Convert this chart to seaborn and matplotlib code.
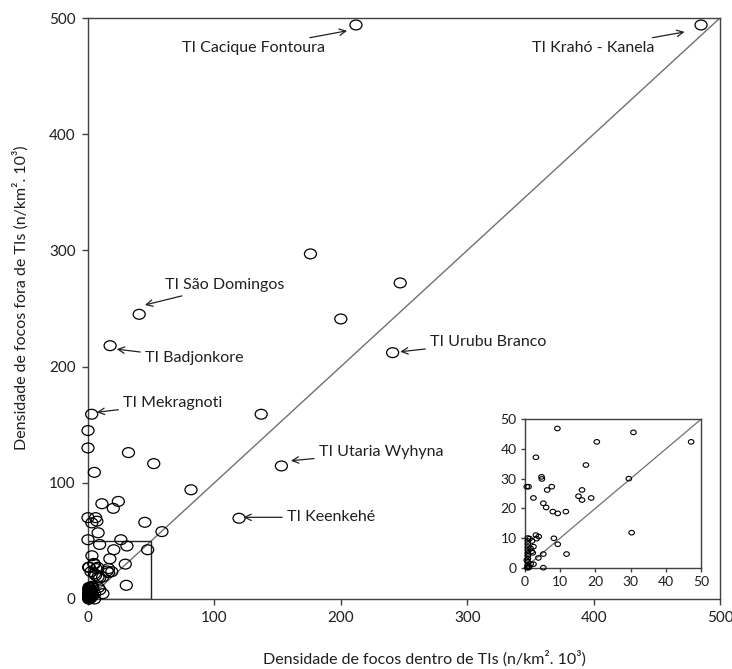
import matplotlib
matplotlib.use("Agg")
import matplotlib.pyplot as plt
import matplotlib.transforms as mtransforms
from matplotlib.path import Path
from matplotlib.patches import Rectangle
import seaborn as sns

# main plot points outside the 0-50 window (x = inside TIs, y = outside TIs)
x_big = [212, 485, 176, 247, 200, 40.5, 17.5, 241, 2.9, 137, 153, 81.5, 119.5,
         32, 52, 0, 0, 5, 11, 24, 20, 45, 0, 6, 7, 3, 58.5, 8, 0, 26]
y_big = [494, 494, 297, 272, 241, 245, 218, 212, 159, 159, 114.5, 94, 69.5,
         126, 116.5, 145, 130, 109, 82, 84, 78, 66, 70, 70, 67, 65.5, 58, 57, 51, 51]

# points inside the 0-50 window
x_small = [9.2, 30.8, 20.4, 47.2, 3.1, 17.3, 4.7, 4.8, 29.5, 0.5, 1.0, 7.6, 6.3,
           16.2, 15.2, 16.2, 2.4, 18.8, 5.2, 6.0, 7.9, 9.3, 11.6, 30.3, 3.1, 3.9,
           3.3, 8.2, 9.3, 2.4, 1.9, 5.2, 11.8, 3.8, 5.2,
           0.8, 0.8, 0.8, 0.8, 0.8, 0.8, 0.8, 0.8, 0.8, 0.8, 0.8,
           1.0, 1.2, 1.6, 2.4, 0.6, 1.3, 2.0, 1.6, 2.2, 0.5, 0.9]
y_small = [46.9, 45.6, 42.4, 42.4, 37.2, 34.6, 30.6, 29.9, 30.0, 27.3, 27.3, 27.3, 26.2,
           26.2, 24.1, 22.8, 23.5, 23.5, 21.7, 20.3, 18.9, 18.3, 18.9, 11.8, 11.0, 10.5,
           9.8, 9.9, 7.9, 7.1, 5.5, 4.6, 4.6, 3.3, 0.0,
           10, 9, 8, 7, 6, 5, 4, 3, 2, 1, 0.5,
           0.0, 0.3, 1.3, 1.2, 0.0, 9.8, 9.0, 6.5, 5.0, 2.5, 4.5]

# annotated TIs: label, point, text position, arrow tip
ti_names = ["TI Cacique Fontoura", "TI Krahó - Kanela", "TI São Domingos", "TI Badjonkore",
            "TI Mekragnoti", "TI Urubu Branco", "TI Utaria Wyhyna", "TI Keenkehé"]
ti_text_x = [74, 351.5, 61, 45, 27.7, 270.5, 182.5, 157.3]
ti_text_y = [474, 474, 270, 207, 168.4, 221, 126.2, 70.3]
ti_tip_x = [205, 472, 45, 22.7, 6.9, 247, 160.5, 123]
ti_tip_y = [489, 488, 253, 215, 160.7, 212.8, 119, 70.3]

diag = [0, 500]
box_size = 50

sns.set_theme(style="ticks")
plt.rcParams["font.family"] = ["Lato", "DejaVu Sans"]

ellipse = Path.unit_circle().transformed(mtransforms.Affine2D().scale(1.22, 1.0))
spine_col = "#404040"
text_col = "#1f1f1f"

fig = plt.figure(figsize=(7.32, 6.69), dpi=100)
ax = fig.add_axes([88 / 732, 1 - 599 / 669, 632 / 732, 581 / 669])

x_all = x_big + x_small
y_all = y_big + y_small
sns.lineplot(x=diag, y=diag, ax=ax, color="#707070", linewidth=1.0)
sns.scatterplot(x=x_all, y=y_all, ax=ax, marker=ellipse, s=75, fc="none",
                ec="black", linewidth=0.9, clip_on=False, zorder=3)
ax.add_patch(Rectangle((0, 0), box_size, box_size, fill=False,
                       edgecolor="#222222", linewidth=1.0, zorder=2))

for name, tx, ty, px, py in zip(ti_names, ti_text_x, ti_text_y, ti_tip_x, ti_tip_y):
    ax.annotate(name, xy=(px, py), xytext=(tx, ty), fontsize=11.5, color=text_col,
                ha="left", va="center",
                arrowprops=dict(arrowstyle="->", color="#222222", lw=0.9,
                                shrinkA=1, shrinkB=0))

ax.set_xlim(0, 500)
ax.set_ylim(0, 500)
ax.set_xticks(range(0, 501, 100))
ax.set_yticks(range(0, 501, 100))
ax.tick_params(direction="out", length=4, width=1, color=spine_col,
               labelsize=11, labelcolor=text_col, pad=5)
for sp in ax.spines.values():
    sp.set_visible(True)
    sp.set_color(spine_col)
    sp.set_linewidth(1.0)
ax.set_xlabel("Densidade de focos dentro de TIs (n/km². 10³)", fontsize=11.5, color=text_col)
ax.set_ylabel("Densidade de focos fora de TIs (n/km². 10³)", fontsize=11.5, color=text_col)
ax.xaxis.set_label_coords(0.532, -0.088)
ax.yaxis.set_label_coords(-0.094, 0.518)

# inset with the 0-50 window
axins = fig.add_axes([525 / 732, 1 - 567.7 / 669, 176 / 732, 148.4 / 669])
axins.set_facecolor("white")
sns.lineplot(x=diag, y=diag, ax=axins, color="#707070", linewidth=0.9)
sns.scatterplot(x=x_small, y=y_small, ax=axins, marker=ellipse, s=16, fc="none",
                ec="black", linewidth=0.8, clip_on=False, zorder=3)
axins.set_xlim(0, 50)
axins.set_ylim(0, 50)
axins.set_xticks(range(0, 51, 10))
axins.set_yticks(range(0, 51, 10))
axins.tick_params(direction="out", length=3, width=1, color=spine_col,
                  labelsize=10, labelcolor=text_col, pad=3)
for sp in axins.spines.values():
    sp.set_visible(True)
    sp.set_color(spine_col)
    sp.set_linewidth(1.0)

fig.savefig("out.png", dpi=100)
